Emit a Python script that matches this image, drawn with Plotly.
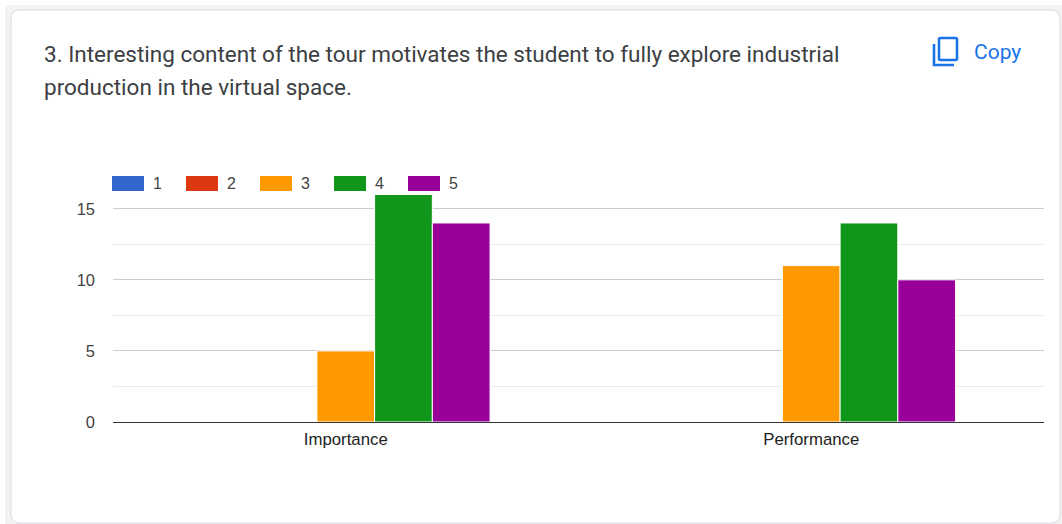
import plotly.graph_objects as go

W, H = 1062, 524
categories = ["Importance", "Performance"]
series_names = ["1", "2", "3", "4", "5"]
series_values = [[0, 0], [0, 0], [5, 11], [16, 14], [14, 10]]
series_colors = ["#3366cc", "#dc3912", "#ff9900", "#109618", "#990099"]
y_ticks = [0, 5, 10, 15]
title_lines = ["3. Interesting content of the tour motivates the student to fully explore industrial",
               "production in the virtual space."]

px = lambda x: x / W
py = lambda y: 1 - y / H

fig = go.Figure()
for name, vals, col in zip(series_names, series_values, series_colors):
    fig.add_bar(x=categories, y=vals, name=name, showlegend=False,
                marker=dict(color=col, line=dict(color="white", width=1)))

shapes = []
annotations = []


def rrect(x0, y0, x1, y1, r):
    return (f"M{px(x0+r)},{py(y0)} L{px(x1-r)},{py(y0)} Q{px(x1)},{py(y0)} {px(x1)},{py(y0+r)} "
            f"L{px(x1)},{py(y1-r)} Q{px(x1)},{py(y1)} {px(x1-r)},{py(y1)} "
            f"L{px(x0+r)},{py(y1)} Q{px(x0)},{py(y1)} {px(x0)},{py(y1-r)} "
            f"L{px(x0)},{py(y0+r)} Q{px(x0)},{py(y0)} {px(x0+r)},{py(y0)} Z")


# page band and card
shapes.append(dict(type="rect", xref="paper", yref="paper", x0=px(5), x1=1, y0=0, y1=py(5),
                   fillcolor="#f1f3f4", line_width=0, layer="below"))
shapes.append(dict(type="path", xref="paper", yref="paper", path=rrect(11, 10, 1060, 523, 9),
                   fillcolor="#ffffff", line=dict(color="#dadce0", width=1), layer="below"))

# title
for text, yc in zip(title_lines, [54, 87]):
    annotations.append(dict(text=text, xref="paper", yref="paper", x=px(42), y=py(yc), xanchor="left",
                            yanchor="middle", showarrow=False,
                            font=dict(family="Roboto", size=22.5, color="#3c4043")))

# copy control
BLUE = "#1a73e8"
shapes.append(dict(type="path", xref="paper", yref="paper", path=rrect(939, 38, 957, 60, 1.5),
                   line=dict(color=BLUE, width=2.6), layer="above"))
shapes.append(dict(type="path", xref="paper", yref="paper",
                   path=f"M{px(934)},{py(44)} L{px(934)},{py(65)} L{px(954)},{py(65)}",
                   line=dict(color=BLUE, width=2.6), layer="above"))
annotations.append(dict(text="Copy", xref="paper", yref="paper", x=px(971.5), y=py(52), xanchor="left",
                        yanchor="middle", showarrow=False,
                        font=dict(family="Roboto", size=21, color=BLUE)))

# legend row
for name, col, x0 in zip(series_names, series_colors, [112, 186, 260, 334, 408]):
    shapes.append(dict(type="rect", xref="paper", yref="paper", x0=px(x0), x1=px(x0 + 32), y0=py(191), y1=py(176),
                       fillcolor=col, line_width=0, layer="above"))
    annotations.append(dict(text=name, xref="paper", yref="paper", x=px(x0 + 39), y=py(183), xanchor="left",
                            yanchor="middle", showarrow=False,
                            font=dict(family="Liberation Sans", size=16, color="#444444")))

fig.update_layout(
    width=W, height=H, margin=dict(l=0, r=0, t=0, b=0), autosize=False,
    paper_bgcolor="#ffffff", plot_bgcolor="rgba(0,0,0,0)",
    barmode="group", bargap=0.38, bargroupgap=0,
    shapes=shapes, annotations=annotations, showlegend=False,
    font=dict(family="Liberation Sans", size=16, color="#444444"),
    xaxis=dict(domain=[px(113), px(1044)], showline=True, linecolor="#333333", linewidth=1.2,
               showgrid=False, zeroline=False, ticks="", ticklabelstandoff=2, automargin=False,
               tickfont=dict(size=16.8, color="#222222"), fixedrange=True),
    yaxis=dict(domain=[py(422), py(173.2)], range=[0, 17.5], tickvals=y_ticks, showgrid=True,
               gridcolor="#cccccc", gridwidth=1, zeroline=False, ticks="", ticklabelstandoff=17,
               automargin=False,
               tickfont=dict(size=16.5, color="#444444"), fixedrange=True,
               minor=dict(tick0=0, dtick=2.5, showgrid=True, gridcolor="#ebebeb", gridwidth=1, ticks="")),
)

fig.write_html("out.html", config={"displayModeBar": False},
               post_script="document.body.style.margin='0';document.documentElement.style.overflow='hidden';")
